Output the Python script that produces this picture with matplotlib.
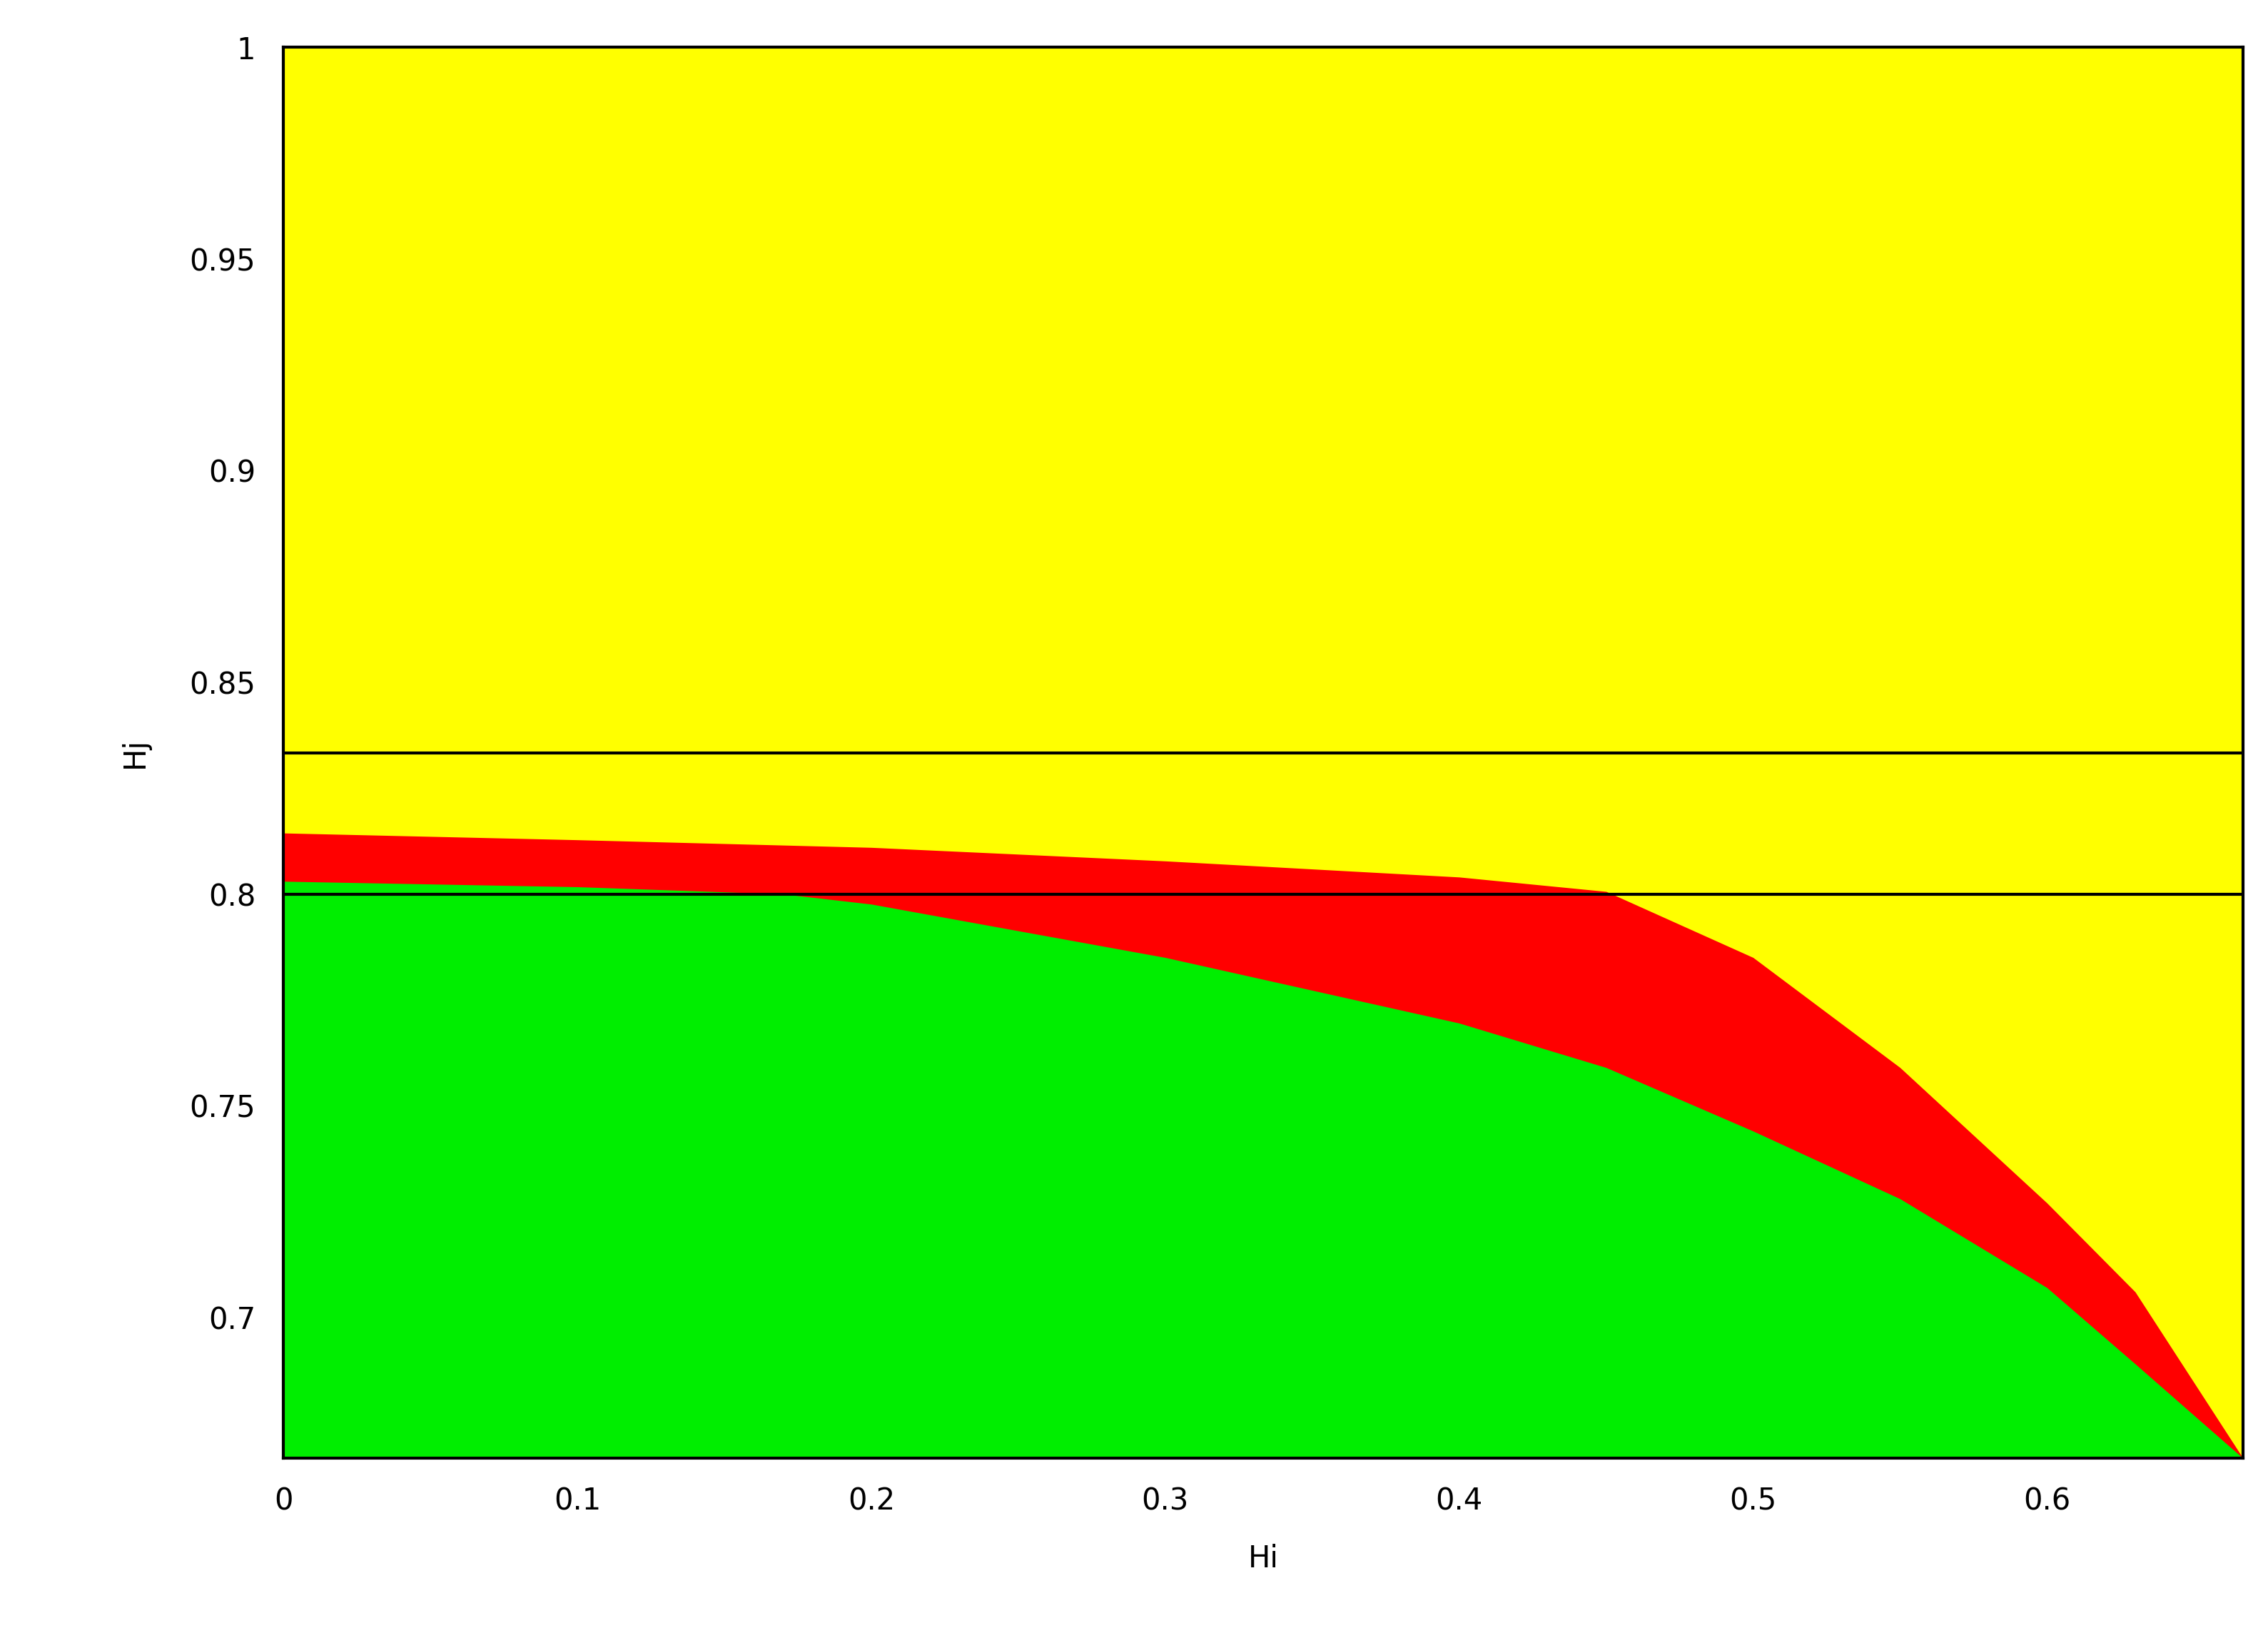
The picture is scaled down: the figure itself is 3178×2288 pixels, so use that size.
import matplotlib
matplotlib.use("Agg")
import matplotlib.pyplot as plt
import numpy as np

red_x = [0, 0.1, 0.2, 0.3, 0.4, 0.45, 0.5, 0.55, 0.6, 0.63, 0.6667]
red_y = [0.8144, 0.8128, 0.811, 0.8078, 0.804, 0.8006, 0.785, 0.759, 0.727, 0.706, 0.6667]
green_x = [0, 0.1, 0.17, 0.2, 0.3, 0.4, 0.45, 0.5, 0.55, 0.6, 0.63, 0.6667]
green_y = [0.803, 0.8017, 0.8, 0.7976, 0.785, 0.7695, 0.759, 0.744, 0.728, 0.707, 0.689, 0.6667]
hlines = [0.8333, 0.8]
xticks = [0, 0.1, 0.2, 0.3, 0.4, 0.5, 0.6]
yticks = [0.7, 0.75, 0.8, 0.85, 0.9, 0.95, 1]
ytick_labels = ["0.7", "0.75", "0.8", "0.85", "0.9", "0.95", "1"]

fig = plt.figure(figsize=(15.89, 11.44), dpi=200)
ax = fig.add_axes([0.125, 0.107, 0.864, 0.864])
xmin, xmax, ymin, ymax = 0, 0.6667, 0.6667, 1.0
ax.set_facecolor("#ffff00")
ax.fill_between(red_x, ymin, red_y, color="#ff0000", lw=0)
ax.fill_between(green_x, ymin, green_y, color="#00ee00", lw=0)
for h in hlines:
    ax.axhline(h, color="black", lw=1.5)
ax.set_xlim(xmin, xmax)
ax.set_ylim(ymin, ymax)
ax.set_xticks(xticks)
ax.set_xticklabels([("%g" % t) for t in xticks])
ax.set_yticks(yticks)
ax.set_yticklabels(ytick_labels)
ax.tick_params(length=0, labelsize=15, pad=14)
for s in ax.spines.values():
    s.set_linewidth(1.5)
ax.set_xlabel("Hi", fontsize=15, labelpad=14)
ax.set_ylabel("Hj", fontsize=15, labelpad=20)
fig.savefig("out.png", dpi=200)
